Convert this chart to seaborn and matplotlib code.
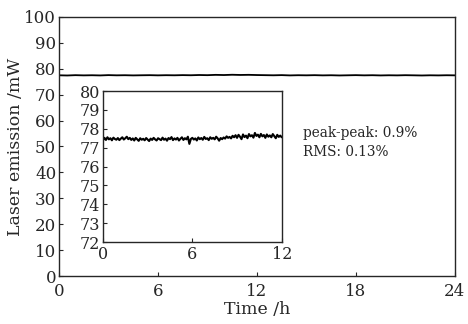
# Laser emission stability over 24 h, with a zoomed inset

import numpy as np
import pandas as pd
import seaborn as sns
import matplotlib.pyplot as plt

# main trace, one reading every 0.5 h over 24 h (mW)
main_power = [77.45, 77.38, 77.50, 77.42, 77.47, 77.40, 77.52, 77.44, 77.48, 77.41,
              77.46, 77.50, 77.43, 77.49, 77.45, 77.52, 77.47, 77.56, 77.50, 77.62,
              77.55, 77.66, 77.58, 77.63, 77.55, 77.50, 77.45, 77.52, 77.41, 77.48,
              77.44, 77.50, 77.42, 77.47, 77.39, 77.45, 77.51, 77.43, 77.48, 77.40,
              77.46, 77.42, 77.49, 77.44, 77.38, 77.45, 77.41, 77.47, 77.43]

# inset trace, one reading every 0.1 h over 12 h (mW)
inset_power = [77.38, 77.52, 77.41, 77.55, 77.44, 77.50, 77.39, 77.53, 77.46, 77.42,
               77.51, 77.40, 77.48, 77.55, 77.43, 77.50, 77.58, 77.45, 77.52, 77.41,
               77.49, 77.38, 77.52, 77.44, 77.36, 77.50, 77.42, 77.47, 77.39, 77.51,
               77.43, 77.35, 77.48, 77.41, 77.52, 77.44, 77.38, 77.50, 77.45, 77.40,
               77.53, 77.42, 77.48, 77.37, 77.51, 77.45, 77.56, 77.40, 77.49, 77.43,
               77.52, 77.38, 77.47, 77.55, 77.41, 77.50, 77.44, 77.58, 77.20, 77.46,
               77.52, 77.43, 77.49, 77.38, 77.54, 77.45, 77.51, 77.42, 77.57, 77.46,
               77.50, 77.40, 77.55, 77.47, 77.52, 77.44, 77.58, 77.49, 77.37, 77.51,
               77.45, 77.54, 77.48, 77.60, 77.52, 77.57, 77.49, 77.63, 77.55, 77.66,
               77.52, 77.68, 77.58, 77.45, 77.70, 77.56, 77.64, 77.50, 77.72, 77.60,
               77.66, 77.53, 77.78, 77.62, 77.69, 77.55, 77.73, 77.60, 77.67, 77.52,
               77.70, 77.58, 77.65, 77.55, 77.72, 77.61, 77.50, 77.68, 77.57, 77.64,
               77.55]

main_xticks = [0, 6, 12, 18, 24]
main_yticks = list(range(0, 101, 10))
inset_xticks = [0, 6, 12]
inset_yticks = list(range(72, 81))
stats_text = ["peak-peak: 0.9%", "RMS: 0.13%"]

df_main = pd.DataFrame({"time": np.linspace(0, 24, len(main_power)), "power": main_power})
df_inset = pd.DataFrame({"time": np.linspace(0, 12, len(inset_power)), "power": inset_power})

sns.set_style("ticks")
plt.rcParams['font.family'] = ['DejaVu Serif']
plt.rcParams['xtick.direction'] = 'in'
plt.rcParams['ytick.direction'] = 'in'

fig = plt.figure(figsize=(4.68, 3.24), dpi=100)
ax = fig.add_axes([0.126, 0.148, 0.846, 0.800])
sns.lineplot(data=df_main, x="time", y="power", color="black", lw=1.3, ax=ax)
ax.set_xlim(0, 24)
ax.set_ylim(0, 100)
ax.set_xticks(main_xticks)
ax.set_yticks(main_yticks)
ax.tick_params(labelsize=12, length=3, width=0.8, pad=2)
ax.tick_params(axis="x", pad=5)
ax.set_xlabel("Time /h", fontsize=12.5, labelpad=1)
ax.set_ylabel("Laser emission /mW", fontsize=12.5, labelpad=0)
for s in ax.spines.values():
    s.set_linewidth(1.0)

ax.text(0.616, 0.552, stats_text[0], transform=ax.transAxes, fontsize=9.8, va="center")
ax.text(0.616, 0.479, stats_text[1], transform=ax.transAxes, fontsize=9.8, va="center")

# inset
axin = fig.add_axes([0.220, 0.253, 0.382, 0.466])
sns.lineplot(data=df_inset, x="time", y="power", color="black", lw=1.5, ax=axin)
axin.set_xlim(0, 12)
axin.set_ylim(72, 80)
axin.set_xticks(inset_xticks)
axin.set_yticks(inset_yticks)
axin.tick_params(labelsize=11.5, length=3, width=0.8, pad=2)
axin.tick_params(axis="x", pad=3)
axin.set_xlabel("")
axin.set_ylabel("")
for s in axin.spines.values():
    s.set_linewidth(1.0)

fig.savefig("out.png", dpi=100)
